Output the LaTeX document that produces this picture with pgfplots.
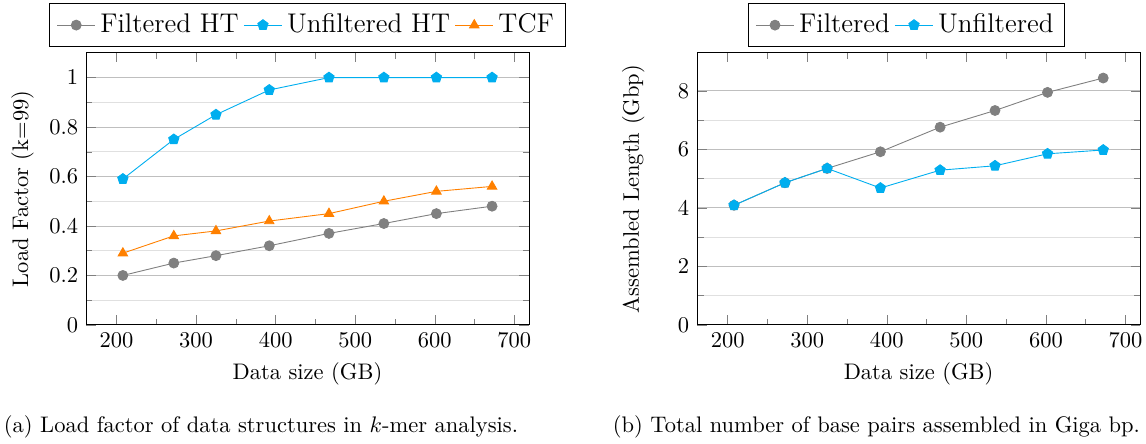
\documentclass[border=0pt]{standalone}
\usepackage{pgfplots}
\pgfplotsset{compat=1.18}
\usetikzlibrary{plotmarks}
\definecolor{unfcyan}{RGB}{0,174,239}
\definecolor{tcforange}{RGB}{255,128,0}
\definecolor{filtgray}{RGB}{128,128,128}

\pgfplotsset{
  panel/.style={
    scale only axis,
    width=196.9pt, height=120.9pt,
    anchor=south west,
    xmin=161.6, xmax=718.4, ymin=0,
    xtick={200,300,...,700}, minor x tick num=1,
    minor y tick num=1,
    ymajorgrids, yminorgrids,
    major grid style={black!25},
    minor grid style={black!12},
    tick align=inside,
    xlabel={Data size (GB)},
    legend columns=-1,
    legend style={font=\fontsize{12}{14}\selectfont, anchor=south, draw=black,
      inner ysep=2.5pt, inner xsep=3pt},
  },
  filt/.style={color=filtgray, mark=*, mark size=2.2pt, mark options={fill=filtgray}},
  unf/.style={color=unfcyan, mark=pentagon*, mark size=2.4pt, mark options={fill=unfcyan}},
  tcf/.style={color=tcforange, mark=triangle*, mark size=2.4pt, mark options={fill=tcforange}},
}

\begin{document}
\begin{tikzpicture}
\useasboundingbox (0,0) rectangle (509.3pt,197.3pt);

% (a) load factor
\begin{axis}[panel,
  at={(38.2pt,52.9pt)},
  ymax=1.1,
  ytick={0,0.2,...,1},
  ylabel={Load Factor (k=99)},
  legend style={at={(0.5,1.022)}},
  ]
  \addplot+[filt] coordinates {
    (208,0.20) (272,0.25) (325,0.28) (392,0.32)
    (467,0.37) (536,0.41) (602,0.45) (672,0.48)
  };
  \addplot+[unf] coordinates {
    (208,0.59) (272,0.75) (325,0.85) (392,0.95)
    (467,1.00) (536,1.00) (602,1.00) (672,1.00)
  };
  \addplot+[tcf] coordinates {
    (208,0.29) (272,0.36) (325,0.38) (392,0.42)
    (467,0.45) (536,0.50) (602,0.54) (672,0.56)
  };
  \legend{Filtered HT,Unfiltered HT,TCF}
\end{axis}

% (b) assembled length
\begin{axis}[panel,
  at={(309.8pt,52.9pt)},
  ymax=9.3,
  ytick={0,2,...,8},
  ylabel={Assembled Length (Gbp)},
  ylabel shift=8pt,
  legend style={at={(0.473,1.022)}},
  ]
  \addplot+[filt] coordinates {
    (208,4.09) (272,4.86) (325,5.35) (392,5.92)
    (467,6.76) (536,7.33) (602,7.95) (672,8.44)
  };
  \addplot+[unf] coordinates {
    (208,4.09) (272,4.86) (325,5.35) (392,4.68)
    (467,5.29) (536,5.44) (602,5.85) (672,5.98)
  };
  \legend{Filtered,Unfiltered}
\end{axis}

\node[anchor=base] at (116pt,5.3pt) {(a) Load factor of data structures in $k$-mer analysis.};
\node[anchor=base] at (389.5pt,5.3pt) {(b) Total number of base pairs assembled in Giga bp.};
\end{tikzpicture}
\end{document}
